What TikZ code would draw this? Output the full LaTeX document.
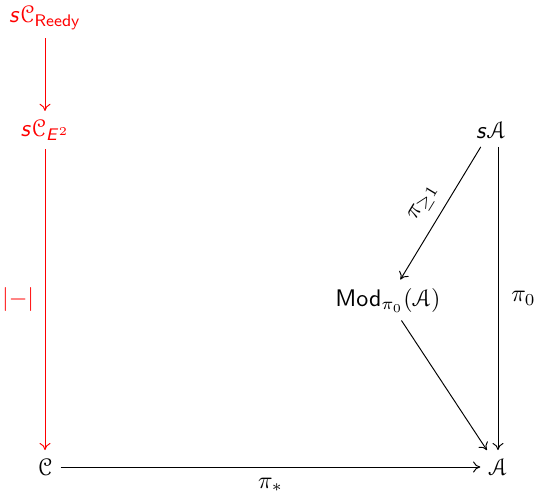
\documentclass[tikz,border=0pt]{standalone}
\usepackage{amsmath}
\usepackage{sansmath}
\usepackage{eucal}
\usetikzlibrary{positioning, arrows.meta}
\DeclareMathAlphabet{\mathsfit}{OT1}{cmss}{m}{sl}
\begin{document}
\begin{tikzpicture}[>={Computer Modern Rightarrow[length=3pt, width=4.6pt]},
    x=0.4167pt, y=-0.4167pt,
    every node/.style={font=\sansmath},
    rood/.style={red}]
      \useasboundingbox (0,0) rectangle (534,495);

        % Linker kolom
        \node[rood] (sCR) at (45,18) {$\mathsfit{s}\mathcal{C}_{\mathsf{Reedy}}$};
        \node[rood] (sCE) at (45,130) {$\mathsfit{s}\mathcal{C}_{\mathsfit{E}^2}$};
        \node (C) at (45,467) {$\mathcal{C}$};

        % Rechter kolom
        \node (sA) at (491,130) {$\mathsfit{s}\mathcal{A}$};
        \node (Mod) at (388,300) {$\mathsf{Mod}_{\pi_0}(\mathcal{A})$};
        \node (A) at (498,467) {$\mathcal{A}$};

        % Rode pijlen
        \draw[->, rood] (sCR) -- (sCE);
        \draw[->, rood] (sCE) -- (C)
          node[midway, left=1pt] {$\lvert{-}\rvert$};

        % Onderste pijl
        \draw[->] (C) -- (A)
          node[midway, below=1pt] {$\pi_*$};

        % Driehoek
        \draw[->] (A |- sA.south) -- (A.north)
          node[midway, right=2pt] {$\pi_0$};
        \draw[->] (sA) -- (Mod)
          node[pos=0.5, sloped, above=1pt] {$\pi_{\geq 1}$};
        \draw[->] (Mod) -- (A);

      \end{tikzpicture}
\end{document}
